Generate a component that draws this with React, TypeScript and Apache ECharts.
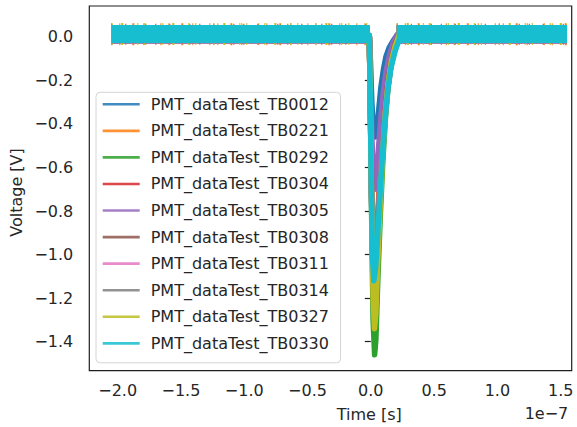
import React, { useEffect, useRef } from 'react';
import * as echarts from 'echarts';

// ---------------- data (time in units of 1e-7 s, voltage in V) ----------------
const seriesNames = [
  'PMT_dataTest_TB0012',
  'PMT_dataTest_TB0221',
  'PMT_dataTest_TB0292',
  'PMT_dataTest_TB0304',
  'PMT_dataTest_TB0305',
  'PMT_dataTest_TB0308',
  'PMT_dataTest_TB0311',
  'PMT_dataTest_TB0314',
  'PMT_dataTest_TB0327',
  'PMT_dataTest_TB0330',
];

const xTicks = [-2.0, -1.5, -1.0, -0.5, 0.0, 0.5, 1.0, 1.5];
const yTicks = [0.0, -0.2, -0.4, -0.6, -0.8, -1.0, -1.2, -1.4];

// baseline (noise band centre) before and after the pulse, per series
const baselineLevel = [0.010, 0.011, 0.009, 0.012, 0.010, 0.011, 0.010, 0.012, 0.012, 0.012];
const preTriggerTimes = [-2.05, -0.012];
const postPulseTimes = [0.205, 1.55];

const pulse0012 = [[-0.03, 0.01], [-0.012, 0.005], [-0.002, -0.12], [0.008, -0.3], [0.02, -0.43], [0.035, -0.46], [0.05, -0.41], [0.065, -0.32], [0.08, -0.23], [0.1, -0.15], [0.12, -0.09], [0.145, -0.05], [0.175, -0.02], [0.21, 0.01]];
const pulse0221 = [[-0.03, 0.011], [-0.012, 0.005], [-0.004, -0.28], [0.004, -0.66], [0.013, -0.92], [0.024, -1.0], [0.038, -0.95], [0.055, -0.8], [0.075, -0.62], [0.095, -0.46], [0.115, -0.32], [0.135, -0.21], [0.16, -0.12], [0.19, -0.05], [0.225, 0.011]];
const pulse0292 = [[-0.03, 0.009], [-0.012, 0.004], [-0.002, -0.4], [0.008, -0.9], [0.018, -1.3], [0.03, -1.46], [0.04, -1.39], [0.055, -1.12], [0.075, -0.82], [0.095, -0.57], [0.115, -0.38], [0.135, -0.24], [0.16, -0.13], [0.19, -0.05], [0.225, 0.009]];
const pulse0304 = [[-0.03, 0.012], [-0.012, 0.006], [-0.004, -0.29], [0.004, -0.68], [0.013, -0.96], [0.025, -1.05], [0.039, -0.99], [0.055, -0.83], [0.075, -0.64], [0.095, -0.47], [0.115, -0.33], [0.135, -0.22], [0.16, -0.12], [0.19, -0.05], [0.225, 0.012]];
const pulse0305 = [[-0.03, 0.01], [-0.012, 0.005], [-0.002, -0.2], [0.008, -0.46], [0.02, -0.64], [0.033, -0.7], [0.046, -0.64], [0.062, -0.5], [0.08, -0.37], [0.1, -0.25], [0.12, -0.16], [0.145, -0.09], [0.175, -0.03], [0.21, 0.01]];
const pulse0308 = [[-0.03, 0.011], [-0.012, 0.005], [-0.002, -0.33], [0.008, -0.78], [0.017, -1.1], [0.029, -1.22], [0.041, -1.15], [0.056, -0.94], [0.076, -0.69], [0.096, -0.48], [0.116, -0.32], [0.138, -0.19], [0.165, -0.1], [0.195, -0.03], [0.23, 0.011]];
const pulse0311 = [[-0.03, 0.01], [-0.012, 0.005], [-0.004, -0.3], [0.004, -0.69], [0.013, -0.97], [0.025, -1.06], [0.039, -1.0], [0.055, -0.85], [0.075, -0.66], [0.095, -0.49], [0.115, -0.34], [0.135, -0.23], [0.16, -0.13], [0.19, -0.06], [0.225, 0.01]];
const pulse0314 = [[-0.03, 0.012], [-0.012, 0.006], [-0.004, -0.29], [0.004, -0.68], [0.013, -0.97], [0.025, -1.08], [0.039, -1.02], [0.055, -0.86], [0.075, -0.67], [0.095, -0.5], [0.115, -0.35], [0.135, -0.23], [0.16, -0.13], [0.19, -0.06], [0.225, 0.012]];
const pulse0327 = [[-0.03, 0.012], [-0.012, 0.006], [-0.002, -0.37], [0.008, -0.85], [0.018, -1.2], [0.029, -1.34], [0.04, -1.27], [0.055, -1.03], [0.075, -0.76], [0.095, -0.53], [0.115, -0.35], [0.137, -0.21], [0.163, -0.11], [0.193, -0.04], [0.228, 0.012]];
const pulse0330 = [[-0.03, 0.012], [-0.012, 0.006], [-0.004, -0.3], [0.004, -0.7], [0.012, -1.0], [0.024, -1.12], [0.038, -1.06], [0.055, -0.9], [0.075, -0.7], [0.095, -0.52], [0.115, -0.36], [0.135, -0.24], [0.16, -0.14], [0.19, -0.07], [0.22, -0.02], [0.25, 0.012]];

const pulses = [pulse0012, pulse0221, pulse0292, pulse0304, pulse0305, pulse0308, pulse0311, pulse0314, pulse0327, pulse0330];

// ---------------- styles ----------------
const colors = ['#1f77b4', '#ff7f0e', '#2ca02c', '#d62728', '#9467bd', '#8c564b', '#e377c2', '#7f7f7f', '#bcbd22', '#17becf'];
const bandWidths = [18, 22, 18, 18, 18, 21, 18, 18, 22, 18];
const bandDash: any[] = ['solid', [1, 7, 1, 12, 2, 9, 1, 16], 'solid', 'solid', 'solid', [1, 13, 1, 19, 1, 9], 'solid', 'solid', [1, 9, 2, 14, 1, 6, 1, 17], 'solid'];
const FONT = 'DejaVu Sans';
const TEXT = '#262626';
const SPINE = '#1e1e1e';

const fmt = (v: number) => {
  const s = Math.abs(v) < 1e-9 ? '0.0' : v.toFixed(1);
  return s.replace('-', '\u2212');
};

export default function App() {
  const ref = useRef<HTMLDivElement>(null);

  useEffect(() => {
    if (!ref.current) return;
    const chart = echarts.init(ref.current, undefined, { renderer: 'svg' });

    const series: any[] = [];
    seriesNames.forEach((name, i) => {
      const lvl = baselineLevel[i];
      series.push({
        name,
        type: 'line',
        data: pulses[i],
        showSymbol: false,
        symbol: 'none',
        color: colors[i],
        lineStyle: { width: 5.5, color: colors[i], join: 'round', cap: 'round' },
        emphasis: { disabled: true },
        silent: true,
      });
      const bandStyle = { width: bandWidths[i], color: colors[i], type: bandDash[i], cap: 'butt' };
      series.push({
        name,
        type: 'line',
        data: preTriggerTimes.map((t) => [t, lvl]),
        showSymbol: false,
        symbol: 'none',
        color: colors[i],
        lineStyle: bandStyle,
        emphasis: { disabled: true },
        silent: true,
      });
      series.push({
        name,
        type: 'line',
        data: postPulseTimes.map((t) => [t, lvl]),
        showSymbol: false,
        symbol: 'none',
        color: colors[i],
        lineStyle: bandStyle,
        emphasis: { disabled: true },
        silent: true,
      });
    });

    const option: any = {
      animation: false,
      backgroundColor: '#ffffff',
      textStyle: { fontFamily: FONT },
      grid: {
        left: 89.3,
        top: 6,
        right: 5.3,
        bottom: 56.3,
        show: true,
        borderColor: SPINE,
        borderWidth: 1.2,
        backgroundColor: 'transparent',
      },
      xAxis: {
        type: 'value',
        min: -2.224,
        max: 1.587,
        axisLine: { show: false },
        splitLine: { show: false },
        axisTick: { show: true, inside: false, length: 6, customValues: xTicks, lineStyle: { color: SPINE, width: 1.2 } },
        axisLabel: { customValues: xTicks, formatter: fmt, margin: 12, fontSize: 16, fontFamily: FONT, color: TEXT },
      },
      yAxis: {
        type: 'value',
        min: -1.533,
        max: 0.141,
        axisLine: { show: false },
        splitLine: { show: false },
        axisTick: { show: true, inside: false, length: 6, customValues: yTicks, lineStyle: { color: SPINE, width: 1.2 } },
        axisLabel: { customValues: yTicks, formatter: fmt, margin: 16, fontSize: 16, fontFamily: FONT, color: TEXT },
      },
      legend: {
        show: true,
        orient: 'vertical',
        left: 96,
        top: 92.3,
        padding: [0.5, 11.6, 8, 6.7],
        itemGap: 3.56,
        itemWidth: 37,
        itemHeight: 2.6,
        icon: 'rect',
        selectedMode: false,
        backgroundColor: 'rgba(255,255,255,0.8)',
        borderColor: '#d4d4d4',
        borderWidth: 1,
        borderRadius: 4,
        itemStyle: { borderWidth: 0 },
        lineStyle: { width: 0 },
        textStyle: { fontSize: 16, fontFamily: FONT, color: TEXT, lineHeight: 19, padding: [4, 0, 0, 6] },
        data: seriesNames.map((n, i) => ({ name: n, itemStyle: { color: colors[i], borderWidth: 0, opacity: 0.85 } })),
      },
      graphic: [
        {
          type: 'text',
          x: 16.7,
          y: 192.5,
          rotation: Math.PI / 2,
          style: { text: 'Voltage [V]', fontSize: 16, fontFamily: FONT, fill: TEXT, textAlign: 'center', textVerticalAlign: 'middle' },
        },
        {
          type: 'text',
          x: 369.2,
          y: 414.7,
          style: { text: 'Time [s]', fontSize: 16, fontFamily: FONT, fill: TEXT, textAlign: 'center', textVerticalAlign: 'middle' },
        },
        {
          type: 'text',
          x: 568.3,
          y: 413.5,
          style: { text: '1e\u22127', fontSize: 16, fontFamily: FONT, fill: TEXT, textAlign: 'right', textVerticalAlign: 'middle' },
        },
      ],
      series,
    };

    chart.setOption(option);
    return () => {
      chart.dispose();
    };
  }, []);

  return (
    <div
      ref={ref}
      style={{ position: 'absolute', left: 0, top: 0, width: 577, height: 427, background: '#fff' }}
    />
  );
}
